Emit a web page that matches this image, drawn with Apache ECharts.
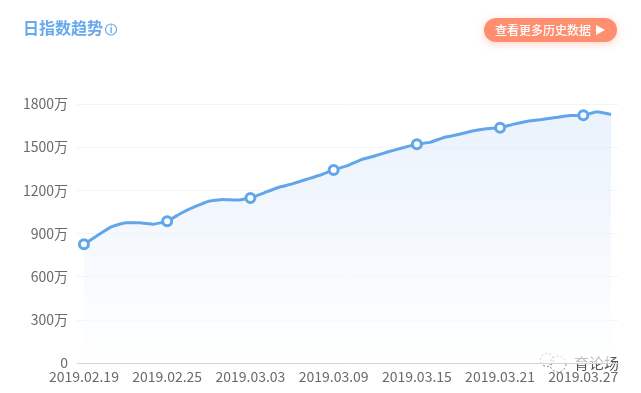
<!DOCTYPE html>
<html><head><meta charset="utf-8">
<style>html,body{margin:0;padding:0;background:#fff}#c{width:641px;height:393px}</style>
<script src="https://cdn.jsdelivr.net/npm/echarts@6/dist/echarts.min.js"></script>
</head><body><div id="c"></div>
<script>
const categories = ['2019.02.19','2019.02.20','2019.02.21','2019.02.22','2019.02.23','2019.02.24','2019.02.25','2019.02.26','2019.02.27','2019.02.28','2019.03.01','2019.03.02','2019.03.03','2019.03.04','2019.03.05','2019.03.06','2019.03.07','2019.03.08','2019.03.09','2019.03.10','2019.03.11','2019.03.12','2019.03.13','2019.03.14','2019.03.15','2019.03.16','2019.03.17','2019.03.18','2019.03.19','2019.03.20','2019.03.21','2019.03.22','2019.03.23','2019.03.24','2019.03.25','2019.03.26','2019.03.27','2019.03.28','2019.03.29'];
const values = [825,888,947,975,975,965,985,1041,1086,1124,1136,1132,1146,1183,1220,1245,1275,1305,1342,1372,1414,1440,1470,1496,1520,1535,1569,1588,1612,1628,1635,1660,1680,1692,1706,1720,1722,1746,1727];
const yTicks = [0,300,600,900,1200,1500,1800];
const titleText = '日指数趋势';
const buttonText = '查看更多历史数据';
const watermark = '育论场';
const FONT = '"Noto Sans CJK SC","Noto Sans",sans-serif';
const chart = echarts.init(document.getElementById('c'), null, {renderer:'canvas'});
chart.setOption({
  animation:false,
  backgroundColor:'#fff',
  grid:{left:77,right:23,top:104,bottom:30},
  xAxis:{type:'category',data:categories,boundaryGap:true,
    axisLine:{lineStyle:{color:'#d4d4d4',width:1}},
    axisTick:{interval:5,length:5,lineStyle:{color:'#d4d4d4'}},
    axisLabel:{interval:5,color:'#6a6a6a',fontSize:14,fontFamily:FONT,margin:7,hideOverlap:false},
    splitLine:{show:false}},
  yAxis:{type:'value',min:yTicks[0],max:yTicks[yTicks.length-1],interval:300,
    axisLine:{show:false},axisTick:{show:false},
    axisLabel:{color:'#6a6a6a',fontSize:14,fontFamily:FONT,margin:9,formatter:v=>v===0?'0':v+'万'},
    splitLine:{lineStyle:{color:'#f3f4f6',width:1}}},
  series:[{type:'line',data:values,smooth:0.1,showAllSymbol:true,
    symbol:(v,p)=>p.dataIndex%6===0?'circle':'none',symbolSize:9,
    lineStyle:{color:'#62a6ea',width:3},
    itemStyle:{color:'#fff',borderColor:'#62a6ea',borderWidth:3},
    areaStyle:{color:new echarts.graphic.LinearGradient(0,0,0,1,[{offset:0,color:'rgba(222,235,251,0.9)'},{offset:1,color:'rgba(255,255,255,0.9)'}])}
  }],
  graphic:[
    {type:'text',left:23,top:20,style:{text:titleText,fill:'#66a9ec',font:'bold 16px '+FONT}},
    {type:'circle',shape:{cx:111,cy:29.5,r:5.5},style:{fill:'none',stroke:'#66a9ec',lineWidth:1.2}},
    {type:'text',x:111,y:29.5,style:{text:'i',fill:'#66a9ec',font:'bold 9px '+FONT,align:'center',verticalAlign:'middle'}},
    {type:'rect',shape:{x:484,y:18,width:133,height:24,r:12},style:{fill:'#fd8e70',shadowBlur:8,shadowColor:'rgba(253,142,112,0.4)',shadowOffsetY:2}},
    {type:'text',x:495,y:30,style:{text:buttonText,fill:'#fff',font:'500 12px '+FONT,verticalAlign:'middle'}},
    {type:'polygon',shape:{points:[[596,25],[596,35],[605,30]]},style:{fill:'#fff'}},
    {type:'circle',shape:{cx:547,cy:360,r:6.5},style:{fill:'none',stroke:'#666',lineWidth:0.8,lineDash:[2,2]}},
    {type:'circle',shape:{cx:558,cy:364,r:8},style:{fill:'none',stroke:'#666',lineWidth:0.8,lineDash:[2,2]}},
    {type:'text',x:574,y:363,style:{text:watermark,fill:'#555',font:'15px '+FONT,verticalAlign:'middle',stroke:'#fff',lineWidth:2}}
  ]
});
</script></body></html>
